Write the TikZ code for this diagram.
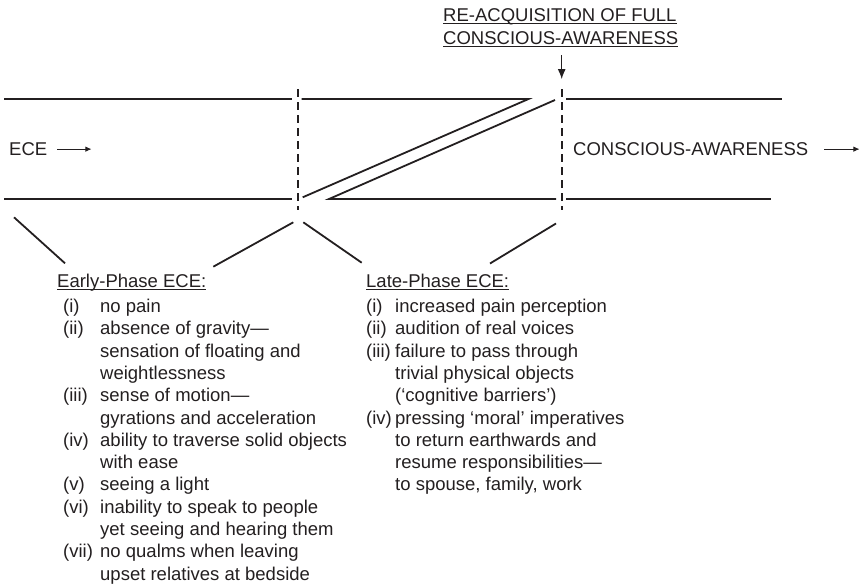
\documentclass[tikz,border=0pt]{standalone}
\usepackage{fontspec}
\setmainfont{Liberation Sans}
\usepackage{array}
\usetikzlibrary{arrows.meta}
\newsavebox\ulbox
\newcommand\myul[1]{\sbox\ulbox{#1}\rlap{\rule[-2.5pt]{\wd\ulbox}{1pt}}\usebox\ulbox}
\definecolor{ink}{HTML}{231F20}
\tikzset{
  bar/.style={line width=1.8pt, line join=miter, draw=ink},
  divider/.style={line width=2pt, dash pattern=on 8pt off 5pt, draw=ink},
  thinarrow/.style={line width=0.8pt, draw=ink, fill=ink, -{Latex[length=6pt,width=5.5pt]}},
  downarrow/.style={line width=1pt, draw=ink, fill=ink, -{Latex[length=10pt,width=8pt]}},
  txt/.style={inner sep=0pt, anchor=base west, text=ink, font=\fontsize{18.5}{22.3}\selectfont},
}
\begin{document}
\begin{tikzpicture}[x=1pt,y=-1pt]
\useasboundingbox (0,0) rectangle (867,587);

% top caption and arrow
\node[txt] (reacqA) at (443,21) {\myul{RE-ACQUISITION OF FULL}};
\node[txt] (reacqB) at (443,44) {\myul{CONSCIOUS-AWARENESS}};
\coordinate (arrS) at (561.7,55);
\coordinate (arrE) at (561.7,79);
\draw[downarrow] (arrS) -- (arrE);

% dashed dividers
\coordinate (d1t) at (297.7,89);  \coordinate (d1b) at (297.7,210);
\coordinate (d2t) at (561.7,89);  \coordinate (d2b) at (561.7,210);
\draw[divider] (d1t) -- (d1b);
\draw[divider] (d2t) -- (d2b);

% horizontal channel lines
\draw[bar] (4,99) -- (291.7,99);
\draw[bar] (4,199) -- (291.7,199);
\draw[bar] (301.7,99) -- (528.5,99) -- (302.7,197.3);
\draw[bar] (555,100) -- (329,199) -- (556,199);
\draw[bar] (566,99) -- (782,99);
\draw[bar] (566,199) -- (771,199);

% channel labels
\node[txt] (ece) at (9,155.5) {ECE};
\draw[thinarrow] ([xshift=10pt]ece.east) -- ++(34,0);
\node[txt] (ca) at (573,155.5) {CONSCIOUS-AWARENESS};
\draw[thinarrow] ([xshift=16pt]ca.east) -- ++(35,0);

% brackets to the lists
\draw[bar] (14,217.3) -- (65,263.3);
\draw[bar] (293.3,222.3) -- (213.3,266.7);
\draw[bar] (303.3,222.3) -- (361.7,262.7);
\draw[bar] (556,223.5) -- (490,263.5);

% lists
\node[txt] (early) at (57,287) {%
\begin{tabular}[t]{@{\hspace{6pt}}p{37pt}@{}l@{}}
\multicolumn{2}{@{}l@{}}{\myul{Early-Phase ECE:}}\\[3.2pt]
(i) & no pain\\
(ii) & absence of gravity—\\
 & sensation of floating and\\
 & weightlessness\\
(iii) & sense of motion—\\
 & gyrations and acceleration\\
(iv) & ability to traverse solid objects\\
 & with ease\\
(v) & seeing a light\\
(vi) & inability to speak to people\\
 & yet seeing and hearing them\\
(vii) & no qualms when leaving\\
 & upset relatives at bedside
\end{tabular}};

\node[txt] (late) at (366,287) {%
\begin{tabular}[t]{@{}p{29pt}@{}l@{}}
\multicolumn{2}{@{}l@{}}{\myul{Late-Phase ECE:}}\\[3.2pt]
(i) & increased pain perception\\
(ii) & audition of real voices\\
(iii) & failure to pass through\\
 & trivial physical objects\\
 & (‘cognitive barriers’)\\
(iv) & pressing ‘moral’ imperatives\\
 & to return earthwards and\\
 & resume responsibilities—\\
 & to spouse, family, work
\end{tabular}};
\end{tikzpicture}
\end{document}
